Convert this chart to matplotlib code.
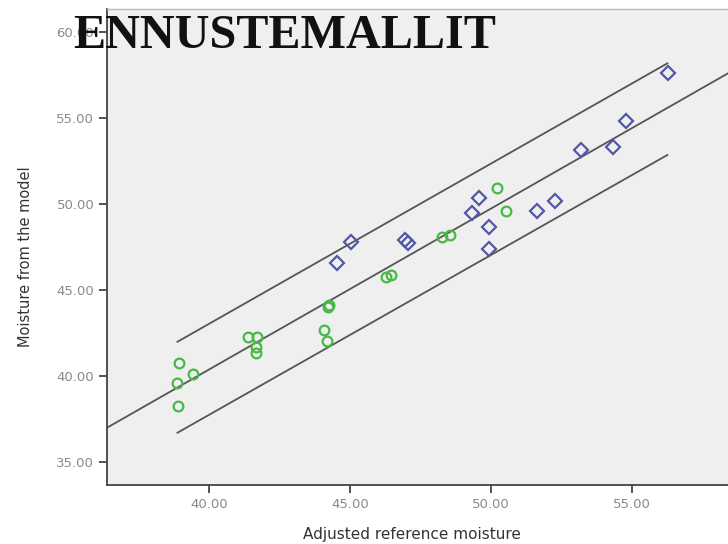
import matplotlib
matplotlib.use("Agg")
import matplotlib.pyplot as plt
import numpy as np

# ---- data ----
green_x = [38.95, 39.42, 38.88, 38.89, 41.39, 41.71, 41.67, 41.67, 44.09, 44.17,
           44.20, 44.27, 46.28, 46.44, 48.25, 48.55, 50.20, 50.52]
green_y = [40.77, 40.12, 39.57, 38.26, 42.25, 42.25, 41.70, 41.32, 42.67, 42.05,
           43.99, 44.13, 45.77, 45.87, 48.06, 48.20, 50.91, 49.59]

blue_x = [44.55, 45.02, 46.95, 47.06, 49.34, 49.57, 49.94, 49.94, 51.64, 52.27,
          53.19, 54.34, 54.79, 56.27]
blue_y = [46.59, 47.81, 47.91, 47.75, 49.46, 50.33, 48.65, 47.38, 49.61, 50.19,
          53.14, 53.33, 54.84, 57.63]

fit_x = [36.37, 58.40]
fit_y = [36.98, 57.60]
band_x = [38.88, 56.25]
upper_y = [41.99, 58.18]
lower_y = [36.70, 52.85]

x_ticks = [40, 45, 50, 55]
y_ticks = [35, 40, 45, 50, 55, 60]
x_range = (36.37, 58.40)
y_range = (33.66, 61.34)

title = "ENNUSTEMALLIT"
x_label = "Adjusted reference moisture"
y_label = "Moisture from the model"

# ---- figure ----
W, H = 728, 544
fig = plt.figure(figsize=(W / 100, H / 100), dpi=100)
fig.patch.set_facecolor("white")
ax = fig.add_axes([106.7 / W, (H - 485) / H, (W - 106.7) / W, (485 - 9) / H])
ax.set_facecolor("#efefef")

line_kw = dict(color="#555555", lw=1.3, zorder=2)
ax.plot(fit_x, fit_y, **line_kw)
ax.plot(band_x, upper_y, **line_kw)
ax.plot(band_x, lower_y, **line_kw)

ax.plot(green_x, green_y, linestyle="none", marker="o", markersize=7,
        markerfacecolor="none", markeredgecolor="#46b946", markeredgewidth=1.6, zorder=3)
ax.plot(blue_x, blue_y, linestyle="none", marker="D", markersize=7,
        markerfacecolor="none", markeredgecolor="#5058a6", markeredgewidth=1.6, zorder=3)

ax.set_xlim(*x_range)
ax.set_ylim(*y_range)
ax.set_xticks(x_ticks)
ax.set_yticks(y_ticks)
ax.set_xticklabels([f"{v:.2f}" for v in x_ticks])
ax.set_yticklabels([f"{v:.2f}" for v in y_ticks])
ax.tick_params(axis="both", direction="out", length=6, width=1.3, color="#444444",
               labelsize=9.5, labelcolor="#8a8a8a", pad=3)

for s in ["left", "bottom"]:
    ax.spines[s].set_color("#444444")
    ax.spines[s].set_linewidth(1.3)
ax.spines["top"].set_color("#b8b8b8")
ax.spines["top"].set_linewidth(1.0)
ax.spines["right"].set_visible(False)

fig.text(25 / W, (H - 257) / H, y_label, rotation=90, ha="center", va="center",
         fontsize=10.5, color="#333333")
fig.text(412 / W, (H - 535) / H, x_label, ha="center", va="center",
         fontsize=11, color="#333333")

# title: fit width to reference
t = fig.text(73 / W, (H - 48) / H, title, ha="left", va="baseline",
             fontsize=36, fontweight="bold", family="Liberation Serif", color="#111111")
fig.canvas.draw()
bb = t.get_window_extent(renderer=fig.canvas.get_renderer())
t.set_fontsize(36 * 422 / bb.width)

fig.savefig("out.png", dpi=100)
